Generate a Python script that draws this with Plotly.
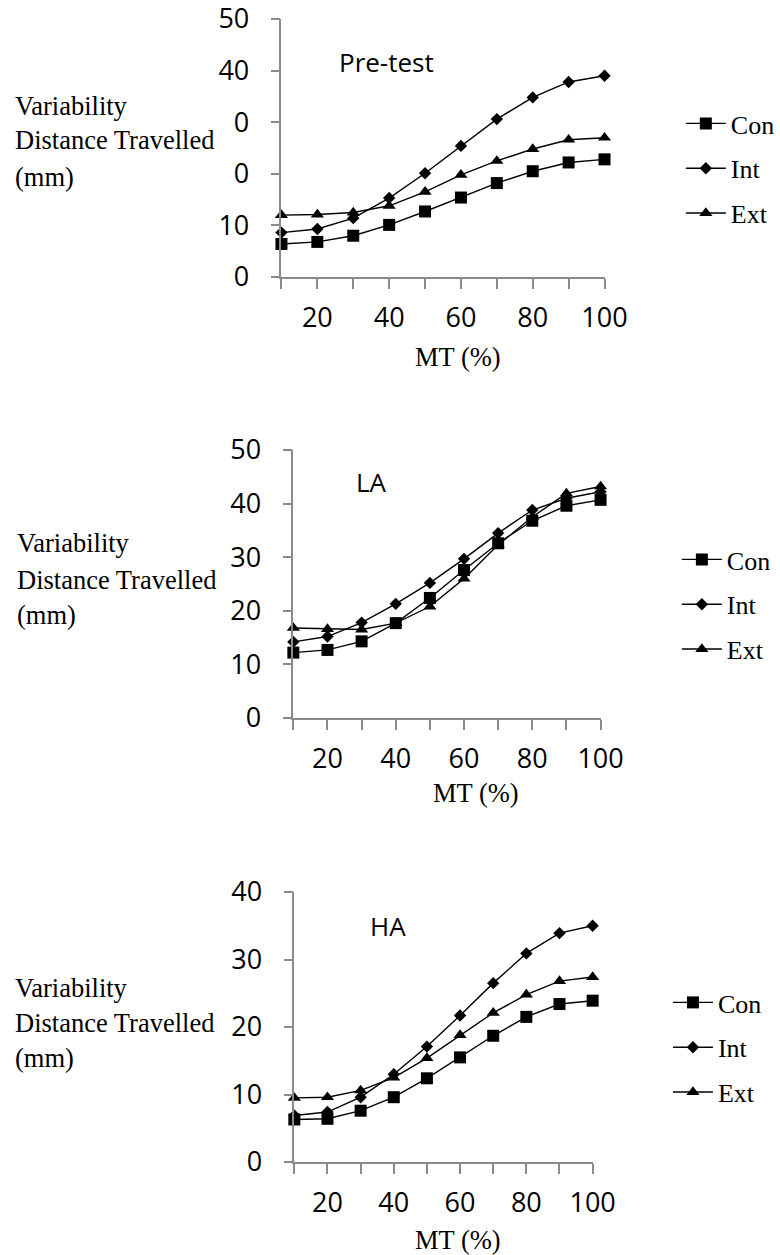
import plotly.graph_objects as go

W, H = 780, 1255

mt = [10, 20, 30, 40, 50, 60, 70, 80, 90, 100]
x_ticktext = ["", "20", "", "40", "", "60", "", "80", "", "100"]
series_names = ["Con", "Int", "Ext"]

pre_con = [6.4, 6.8, 8.0, 10.1, 12.7, 15.4, 18.2, 20.5, 22.2, 22.8]
pre_int = [8.6, 9.3, 11.4, 15.3, 20.1, 25.4, 30.6, 34.8, 37.8, 39.0]
pre_ext = [12.0, 12.1, 12.5, 13.8, 16.5, 19.8, 22.5, 24.8, 26.6, 27.0]

la_con = [12.2, 12.7, 14.3, 17.7, 22.4, 27.6, 32.6, 36.8, 39.6, 40.7]
la_int = [14.2, 15.2, 17.8, 21.3, 25.2, 29.7, 34.5, 38.8, 41.0, 42.2]
la_ext = [16.8, 16.6, 16.5, 17.7, 20.8, 26.0, 32.3, 37.5, 41.9, 43.2]

ha_con = [6.3, 6.4, 7.6, 9.6, 12.4, 15.5, 18.7, 21.5, 23.4, 23.9]
ha_int = [6.9, 7.4, 9.6, 13.0, 17.1, 21.7, 26.5, 30.9, 33.9, 35.0]
ha_ext = [9.5, 9.6, 10.6, 12.5, 15.4, 18.8, 22.1, 24.8, 26.8, 27.4]

pre_yticks = [0, 10, 20, 30, 40, 50]
pre_yticktext = ["0", "10", "0", "0", "40", "50"]
la_yticks = [0, 10, 20, 30, 40, 50]
la_yticktext = ["0", "10", "20", "30", "40", "50"]
ha_yticks = [0, 10, 20, 30, 40]
ha_yticktext = ["0", "10", "20", "30", "40"]

panel_titles = ["Pre-test", "LA", "HA"]
ytitle_lines = ["Variability", "Distance Travelled", "(mm)"]
xtitle = "MT (%)"


def px_x(p):
    return p / W


def px_y(p):
    return 1 - p / H


# layout geometry (pixels)
panels = [
    dict(data=[pre_con, pre_int, pre_ext], yticks=pre_yticks, ytext=pre_yticktext, yrange=[0, 50],
         left=284, right=610, top=19, bottom=277, title_xy=(340, 62),
         ytitle_left=13, ytitle_y=[106, 140, 177], xtitle_xy=(462, 357),
         legend_xy=(687, 100)),
    dict(data=[la_con, la_int, la_ext], yticks=la_yticks, ytext=la_yticktext, yrange=[0, 50],
         left=296, right=606, top=450, bottom=718, title_xy=(357, 482),
         ytitle_left=15, ytitle_y=[543, 580, 615], xtitle_xy=(480, 793),
         legend_xy=(683, 536)),
    dict(data=[ha_con, ha_int, ha_ext], yticks=ha_yticks, ytext=ha_yticktext, yrange=[0, 40],
         left=297, right=598, top=892, bottom=1162, title_xy=(371, 926),
         ytitle_left=13, ytitle_y=[988, 1023, 1058], xtitle_xy=(462, 1240),
         legend_xy=(674, 979)),
]

symbols = ["square", "diamond", "triangle-up"]
msizes = [12, 9.5, 11.5]

fig = go.Figure()
annotations = []
layout_axes = {}

for i, p in enumerate(panels):
    n = "" if i == 0 else str(i + 1)
    xa, ya = "x" + n, "y" + n
    leg = "legend" + n
    for j, (name, vals) in enumerate(zip(series_names, p["data"])):
        fig.add_trace(go.Scatter(
            x=mt, y=vals, name=name, mode="lines+markers",
            xaxis=xa, yaxis=ya, legend=leg, legendgroup=f"{i}-{j}",
            line=dict(color="black", width=1.4),
            marker=dict(symbol=symbols[j], size=msizes[j], color="black"),
            cliponaxis=False,
        ))
    axis_common = dict(showgrid=False, zeroline=False, showline=True, automargin=False,
                       linecolor="#8a8a8a", linewidth=1.5, ticks="outside",
                       tickcolor="#8a8a8a", tickwidth=1.5, ticklabeloverflow="allow",
                       tickfont=dict(family="Open Sans", size=27, color="black"))
    layout_axes["xaxis" + n] = dict(
        axis_common, domain=[px_x(p["left"]), px_x(p["right"])], range=[10, 100],
        anchor=ya, tickmode="array", tickvals=mt, ticktext=x_ticktext,
        ticklen=10, ticklabelstandoff=6)
    layout_axes["yaxis" + n] = dict(
        axis_common, domain=[px_y(p["bottom"]), px_y(p["top"])], range=p["yrange"],
        anchor=xa, tickmode="array", tickvals=p["yticks"], ticktext=p["ytext"],
        ticklen=9, ticklabelstandoff=16)
    layout_axes[leg] = dict(
        x=px_x(p["legend_xy"][0]), y=px_y(p["legend_xy"][1]),
        xanchor="left", yanchor="top", bgcolor="rgba(0,0,0,0)",
        font=dict(family="Liberation Serif", size=26, color="black"),
        tracegroupgap=8, itemwidth=40)
    annotations.append(dict(
        text=panel_titles[i], xref="paper", yref="paper",
        x=px_x(p["title_xy"][0]), y=px_y(p["title_xy"][1]),
        xanchor="left", yanchor="middle", showarrow=False,
        font=dict(family="Open Sans", size=26, color="black")))
    for line, yy in zip(ytitle_lines, p["ytitle_y"]):
        annotations.append(dict(
            text=line, xref="paper", yref="paper",
            x=px_x(p["ytitle_left"]), y=px_y(yy),
            xanchor="left", yanchor="middle", showarrow=False,
            font=dict(family="Liberation Serif", size=26.5, color="black")))
    annotations.append(dict(
        text=xtitle, xref="paper", yref="paper",
        x=px_x(p["xtitle_xy"][0]), y=px_y(p["xtitle_xy"][1]),
        xanchor="center", yanchor="middle", showarrow=False,
        font=dict(family="Liberation Serif", size=26.5, color="black")))

fig.update_layout(
    width=W, height=H, margin=dict(l=0, r=0, t=0, b=0),
    paper_bgcolor="white", plot_bgcolor="white",
    annotations=annotations, **layout_axes)

fig.write_html("out.html")
